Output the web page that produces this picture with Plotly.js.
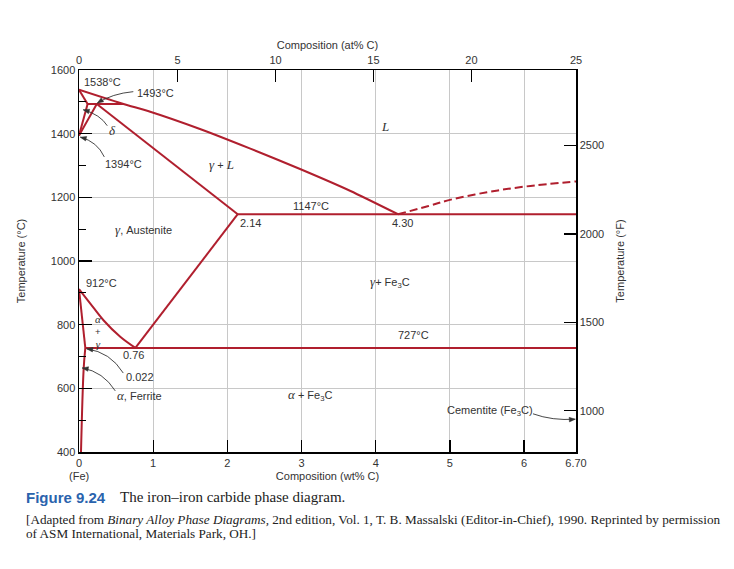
<!DOCTYPE html>
<html><head><meta charset="utf-8">
<script src="https://cdn.plot.ly/plotly-3.0.1.min.js"></script>
<style>html,body{margin:0;padding:0;background:#fff}#chart{width:734px;height:569px}</style>
</head><body><div id="chart"></div>
<script>
// ---- phase boundaries: composition (wt% C) and temperature (°C) ----
const liquidusX = [0, 0.6, 0.96, 1.64, 2.31, 2.98, 3.66, 4.3];
const liquidusT = [1538, 1493, 1469, 1414, 1353, 1289, 1220, 1147];
const deltaSolidusX = [0, 0.116];
const deltaSolidusT = [1538, 1493];
const deltaSolvusX = [0.116, 0];
const deltaSolvusT = [1493, 1394];
const peritecticX = [0.116, 0.6];
const peritecticT = [1493, 1493];
const gammaDeltaX = [0.24, 0];
const gammaDeltaT = [1493, 1394];
const gammaSolidusX = [0.24, 2.14];
const gammaSolidusT = [1493, 1147];
const eutecticX = [2.14, 6.70];
const eutecticT = [1147, 1147];
const acmX = [2.14, 0.76];
const acmT = [1147, 727];
const a3X = [0, 0.15, 0.33, 0.556, 0.76];
const a3T = [912, 867, 814, 762, 727];
const alphaGammaX = [0, 0.085];
const alphaGammaT = [912, 727];
const ferriteSolvusX = [0.085, 0.062, 0.027];
const ferriteSolvusT = [727, 658, 400];
const eutectoidX = [0.085, 6.70];
const eutectoidT = [727, 727];
const cementiteLiqX = [4.3, 4.7, 5.0, 5.5, 6.02, 6.7];
const cementiteLiqT = [1147, 1172, 1192, 1216, 1234, 1250];

// ---- axis ticks ----
const wtTickVals = [0, 1, 2, 3, 4, 5, 6, 6.70];
const wtTickText = ['0', '1', '2', '3', '4', '5', '6', '6.70'];
const atTickPos = [0, 1.329, 2.650, 3.970, 5.291, 6.70];
const atTickText = ['0', '5', '10', '15', '20', '25'];
const fTickVals = [1000, 1500, 2000, 2500];

// ---- labels (wt% C, °C) ----
const G = s => '<i><span style="font-family:Liberation Serif;font-size:13px">' + s + '</span></i>';
const Gs = s => '<i><span style="font-family:Liberation Serif;font-size:11px">' + s + '</span></i>';
const labelText = ['1538°C', '1493°C', G('δ'), '1394°C', G('γ') + ' + ' + G('L'), G('L'),
  '1147°C', '2.14', '4.30', G('γ') + ', Austenite', '912°C', G('γ') + '+ Fe<sub>3</sub>C',
  Gs('α') + '<br>+<br>' + Gs('γ'), '727°C', '0.76', '0.022', G('α') + ', Ferrite',
  G('α') + ' + Fe<sub>3</sub>C', 'Cementite (Fe<sub>3</sub>C)'];
const labelX = [0.045, 0.759, 0.449, 0.60, 1.927, 4.119, 3.121, 2.309, 4.367, 0.455, 0.062, 4.196,
  0.251, 4.509, 0.736, 0.826, 0.809, 3.12, 5.547];
const labelT = [1563, 1529, 1409, 1304, 1304, 1423, 1173, 1119, 1119, 1098, 930, 933,
  778, 766, 705, 635, 576, 580, 529];
const labelAnchor = ['left', 'left', 'center', 'center', 'center', 'center', 'center', 'center', 'center',
  'left', 'left', 'center', 'center', 'center', 'center', 'center', 'center', 'center', 'center'];
const labelSize = [11, 11, 11, 11, 11, 11, 11, 11, 11, 11, 11, 11, 9.5, 11, 11, 11, 11, 11, 11];

// ---- leader arrows: start, control, tip (wt% C, °C) ----
const arrowStartX = [0.732, 0.381, 0.341, 0.597, 0.489, 6.12];
const arrowStartT = [1532, 1425, 1327, 648, 592, 520];
const arrowCtrlX = [0.449, 0.287, 0.247, 0.422, 0.327, 6.38];
const arrowCtrlT = [1526, 1460, 1375, 714, 652, 498];
const arrowTipX = [0.247, 0.058, 0.018, 0.105, 0.044, 6.69];
const arrowTipT = [1496, 1475, 1389, 724, 664, 503];

const RED = '#b01f2e';
const W = 734, H = 569, ML = 79, MR = 158, MT = 70, MB = 117;
const plotW = W - ML - MR, plotH = H - MT - MB;

function boundary(x, y, extra) {
  return Object.assign({x: x, y: y, type: 'scatter', mode: 'lines',
    line: {color: RED, width: 2}, hoverinfo: 'skip', showlegend: false}, extra || {});
}
const data = [
  boundary(liquidusX, liquidusT, {line: {color: RED, width: 2, shape: 'spline', smoothing: 0.6}}),
  boundary(deltaSolidusX, deltaSolidusT),
  boundary(deltaSolvusX, deltaSolvusT),
  boundary(peritecticX, peritecticT),
  boundary(gammaDeltaX, gammaDeltaT),
  boundary(gammaSolidusX, gammaSolidusT),
  boundary(eutecticX, eutecticT),
  boundary(acmX, acmT),
  boundary(a3X, a3T, {line: {color: RED, width: 2, shape: 'spline'}}),
  boundary(alphaGammaX, alphaGammaT),
  boundary(ferriteSolvusX, ferriteSolvusT, {line: {color: RED, width: 2, shape: 'spline'}}),
  boundary(eutectoidX, eutectoidT),
  boundary(cementiteLiqX, cementiteLiqT, {line: {color: RED, width: 2, shape: 'spline', dash: '8px,4px'}}),
  {x: [], y: [], xaxis: 'x2', yaxis: 'y2', type: 'scatter', mode: 'lines', showlegend: false, hoverinfo: 'skip'}
];

const annotations = [];
for (let i = 0; i < labelText.length; i++) {
  annotations.push({x: labelX[i], y: labelT[i], xref: 'x', yref: 'y', text: labelText[i],
    showarrow: false, xanchor: labelAnchor[i], yanchor: 'middle', font: {size: labelSize[i], color: '#333'}});
}
const shapes = [];
const pxX = plotW / 6.7, pxY = plotH / 1200;
for (let i = 0; i < arrowTipX.length; i++) {
  shapes.push({type: 'path', xref: 'x', yref: 'y', layer: 'above',
    path: 'M ' + arrowStartX[i] + ',' + arrowStartT[i] + ' Q ' + arrowCtrlX[i] + ',' + arrowCtrlT[i] +
      ' ' + arrowTipX[i] + ',' + arrowTipT[i],
    line: {color: '#333', width: 0.9}});
  // arrowhead: triangle in pixel space, converted back to data units
  let ux = (arrowCtrlX[i] - arrowTipX[i]) * pxX, uy = (arrowCtrlT[i] - arrowTipT[i]) * pxY;
  const len = Math.sqrt(ux * ux + uy * uy);
  ux /= len; uy /= len;
  const L = 6, w = 2.3;
  const bx = ux * L, by = uy * L;
  const p1x = arrowTipX[i] + (bx - uy * w) / pxX, p1y = arrowTipT[i] + (by + ux * w) / pxY;
  const p2x = arrowTipX[i] + (bx + uy * w) / pxX, p2y = arrowTipT[i] + (by - ux * w) / pxY;
  shapes.push({type: 'path', xref: 'x', yref: 'y', layer: 'above',
    path: 'M ' + arrowTipX[i] + ',' + arrowTipT[i] + ' L ' + p1x + ',' + p1y + ' L ' + p2x + ',' + p2y + ' Z',
    fillcolor: '#333', line: {color: '#333', width: 0.5}});
}
const px2x = px => (px - ML) / plotW;
const py2y = py => (H - MB - py) / plotH;
annotations.push({xref: 'x', yref: 'paper', x: 0, y: py2y(476), text: '(Fe)', showarrow: false,
  xanchor: 'center', yanchor: 'middle', font: {size: 11, color: '#333'}});
annotations.push({xref: 'paper', yref: 'paper', x: px2x(24), y: py2y(497), text: '<b>Figure 9.24</b>',
  showarrow: false, xanchor: 'left', yanchor: 'middle',
  font: {family: 'Liberation Sans Narrow, Liberation Sans, sans-serif', size: 15, color: '#2a63ad'}});
annotations.push({xref: 'paper', yref: 'paper', x: px2x(118), y: py2y(497),
  text: 'The iron–iron carbide phase diagram.', showarrow: false, xanchor: 'left', yanchor: 'middle',
  font: {family: 'Liberation Serif, serif', size: 15, color: '#222'}});
annotations.push({xref: 'paper', yref: 'paper', x: px2x(24), y: py2y(519),
  text: '[Adapted from <i>Binary Alloy Phase Diagrams,</i> 2nd edition, Vol. 1, T. B. Massalski (Editor-in-Chief), 1990. Reprinted by permission',
  showarrow: false, xanchor: 'left', yanchor: 'middle',
  font: {family: 'Liberation Serif, serif', size: 13.2, color: '#222'}});
annotations.push({xref: 'paper', yref: 'paper', x: px2x(24), y: py2y(533),
  text: 'of ASM International, Materials Park, OH.]',
  showarrow: false, xanchor: 'left', yanchor: 'middle',
  font: {family: 'Liberation Serif, serif', size: 13.2, color: '#222'}});

const axisCommon = {showline: true, linecolor: '#000', linewidth: 1.5, zeroline: false,
  tickcolor: '#000', tickwidth: 1.3, fixedrange: true, tickfont: {size: 11, color: '#333'}};
const layout = {
  width: W, height: H,
  margin: {l: ML, r: MR, t: MT, b: MB, pad: 0, autoexpand: false},
  paper_bgcolor: '#fff', plot_bgcolor: '#fff',
  font: {family: 'Liberation Sans, Arial, sans-serif', size: 11, color: '#333'},
  showlegend: false,
  xaxis: Object.assign({}, axisCommon, {range: [0, 6.7], tickmode: 'array', tickvals: wtTickVals,
    ticktext: wtTickText, ticks: 'inside', ticklen: 12, showgrid: true, gridcolor: '#c8c8c8', gridwidth: 1,
    mirror: true, title: {text: 'Composition (wt% C)', standoff: 4, font: {size: 11, color: '#333'}}}),
  xaxis2: Object.assign({}, axisCommon, {overlaying: 'x', side: 'top', range: [0, 6.7], tickmode: 'array',
    tickvals: atTickPos, ticktext: atTickText, ticks: 'inside', ticklen: 12, showgrid: false,
    title: {text: 'Composition (at% C)', standoff: 2, font: {size: 11, color: '#333'}}}),
  yaxis: Object.assign({}, axisCommon, {range: [400, 1600], tick0: 400, dtick: 200, ticks: 'inside',
    ticklen: 13, showgrid: true, gridcolor: '#c8c8c8', gridwidth: 1, mirror: true,
    minor: {tick0: 400, dtick: 100, ticks: 'inside', ticklen: 7, tickcolor: '#000', tickwidth: 1.3, showgrid: false},
    title: {text: 'Temperature (°C)', standoff: 23, font: {size: 11, color: '#333'}}}),
  yaxis2: Object.assign({}, axisCommon, {overlaying: 'y', side: 'right', range: [767, 2927], tickmode: 'array',
    tickvals: fTickVals, ticks: 'inside', ticklen: 12, showgrid: false,
    title: {text: 'Temperature (°F)', standoff: 13, font: {size: 11, color: '#333'}}}),
  annotations: annotations,
  shapes: shapes
};
Plotly.newPlot('chart', data, layout, {displayModeBar: false, staticPlot: true});
</script>
</body></html>
